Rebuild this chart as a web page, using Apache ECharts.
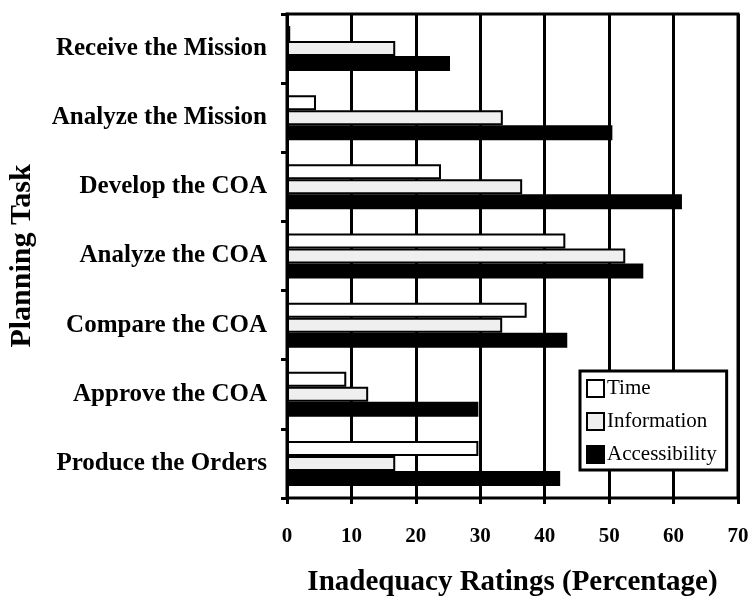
<!DOCTYPE html>
<html style="height: 100%">
<head>
<meta charset="utf-8">
<script src="https://cdn.jsdelivr.net/npm/echarts@6/dist/echarts.min.js"></script>
</head>
<body style="height: 100%; margin: 0; background: #fff">
<div id="container" style="width: 751px; height: 600px"></div>
<script type="text/javascript">
var tasks = ['Receive the Mission', 'Analyze the Mission', 'Develop the COA', 'Analyze the COA',
             'Compare the COA', 'Approve the COA', 'Produce the Orders'];
var timeVals = [0.5, 4.5, 23.9, 43.2, 37.2, 9.2, 29.7];
var infoVals = [16.8, 33.5, 36.5, 52.5, 33.4, 12.6, 16.8];
var accessVals = [25.3, 50.5, 61.3, 55.3, 43.5, 29.7, 42.4];
var xTicks = [0, 10, 20, 30, 40, 50, 60, 70];

var serif = '"Liberation Serif", "DejaVu Serif", serif';
var chart = echarts.init(document.getElementById('container'));

function barSeries(name, data, fill) {
    return {
        name: name,
        type: 'bar',
        data: data,
        barWidth: 15,
        barGap: '0%',
        itemStyle: {color: fill, borderColor: '#000', borderWidth: 2}
    };
}

var option = {
    backgroundColor: '#fff',
    animation: false,
    grid: {left: 287, right: 13, top: 14, bottom: 102, show: true, outerBoundsMode: 'none',
           borderColor: '#000', borderWidth: 3},
    legend: {
        orient: 'vertical',
        left: 580, top: 371,
        padding: [7, 10, 5, 6],
        itemGap: 12,
        itemWidth: 17, itemHeight: 17,
        icon: 'rect',
        borderColor: '#000', borderWidth: 3,
        backgroundColor: '#fff',
        textStyle: {fontFamily: serif, fontSize: 21, color: '#000', padding: [0, 0, 0, -2]},
        data: ['Time', 'Information', 'Accessibility']
    },
    xAxis: {
        type: 'value',
        min: xTicks[0], max: xTicks[xTicks.length - 1], interval: 10,
        name: 'Inadequacy Ratings (Percentage)',
        nameLocation: 'middle', nameGap: 70,
        nameTextStyle: {fontFamily: serif, fontSize: 29, fontWeight: 'bold', color: '#000'},
        axisLine: {lineStyle: {color: '#000', width: 3}},
        axisTick: {show: true, length: 6, lineStyle: {color: '#000', width: 3}},
        axisLabel: {fontFamily: serif, fontSize: 21, fontWeight: 'bold', color: '#000', margin: 28},
        splitLine: {show: true, lineStyle: {color: '#000', width: 3}}
    },
    yAxis: {
        type: 'category',
        data: tasks,
        inverse: true,
        name: 'Planning Task',
        nameLocation: 'middle', nameGap: 250, nameRotate: 90,
        nameTextStyle: {fontFamily: serif, fontSize: 30, fontWeight: 'bold', color: '#000'},
        axisLine: {lineStyle: {color: '#000', width: 3}},
        axisTick: {show: true, length: 6, lineStyle: {color: '#000', width: 3}},
        axisLabel: {fontFamily: serif, fontSize: 25, fontWeight: 'bold', color: '#000', margin: 20}
    },
    series: [
        barSeries('Time', timeVals, '#fff'),
        barSeries('Information', infoVals, '#efefef'),
        barSeries('Accessibility', accessVals, '#000')
    ]
};
chart.setOption(option);
</script>
</body>
</html>
